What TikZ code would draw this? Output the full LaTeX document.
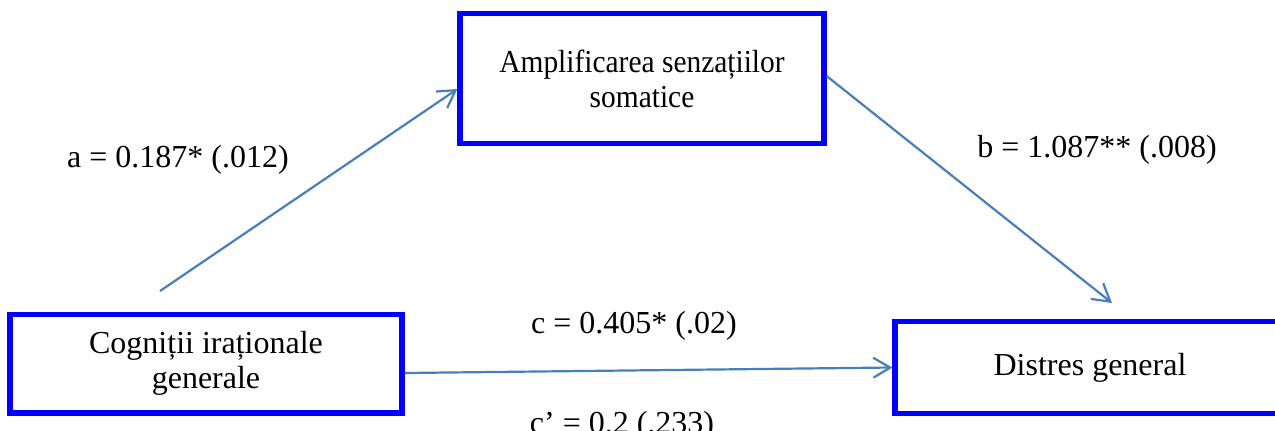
\documentclass[tikz,border=0pt]{standalone}
\usepackage{fontspec}
\setmainfont{Liberation Serif}
\newfontfamily\narrowserif[FakeStretch=0.92]{Liberation Serif}
\usetikzlibrary{arrows.meta,calc}
\definecolor{boxblue}{RGB}{0,0,255}
\definecolor{arrowblue}{RGB}{74,126,187}
\tikzset{
  varbox/.style={draw=boxblue, line width=2.6pt, fill=white, inner sep=0pt, align=center,
    font=\fontsize{16}{17.5}\selectfont},
  pathlabel/.style={anchor=base, inner sep=0pt, font=\fontsize{16}{17.5}\selectfont},
  link/.style={draw=arrowblue, line width=1.1pt, line join=round,
    -{Straight Barb[length=8.5pt,width=10pt,line width=1.1pt]}},
}
\begin{document}
\begin{tikzpicture}[x=0.5pt,y=-0.5pt]
\useasboundingbox (0,0) rectangle (1275,430);
\clip (0,0) rectangle (1275,430);
\node[varbox, minimum width=182pt, minimum height=65pt,
  font=\narrowserif\fontsize{16}{17.5}\selectfont] (top) at (642,78.5)
  {Amplificarea senzațiilor\\somatice};
\node[varbox, minimum width=196pt, minimum height=49.25pt] (left) at (206,363.7)
  {Cogniții iraționale\\generale};
\node[varbox, minimum width=195pt, minimum height=46pt] (right) at (1090,367.5)
  {\raisebox{-2pt}{Distres general}};
\coordinate (astart) at (160,291);
\coordinate (bend) at (1112,303);
\draw[link] (astart) -- ($(top.west)+(0,10.5)$);
\draw[link] ($(top.east)+(0,-2.5)$) -- (bend);
\draw[link] ($(left.east)+(0,9.3)$) -- (right.west);
\node[pathlabel] (la) at (178,167) {a = 0.187* (.012)};
\node[pathlabel] (lb) at (1097,157) {b = 1.087** (.008)};
\node[pathlabel] (lc) at (634,333) {c = 0.405* (.02)};
\node[pathlabel] (lcp) at (622,433) {c’ = 0.2 (.233)};
\end{tikzpicture}
\end{document}
